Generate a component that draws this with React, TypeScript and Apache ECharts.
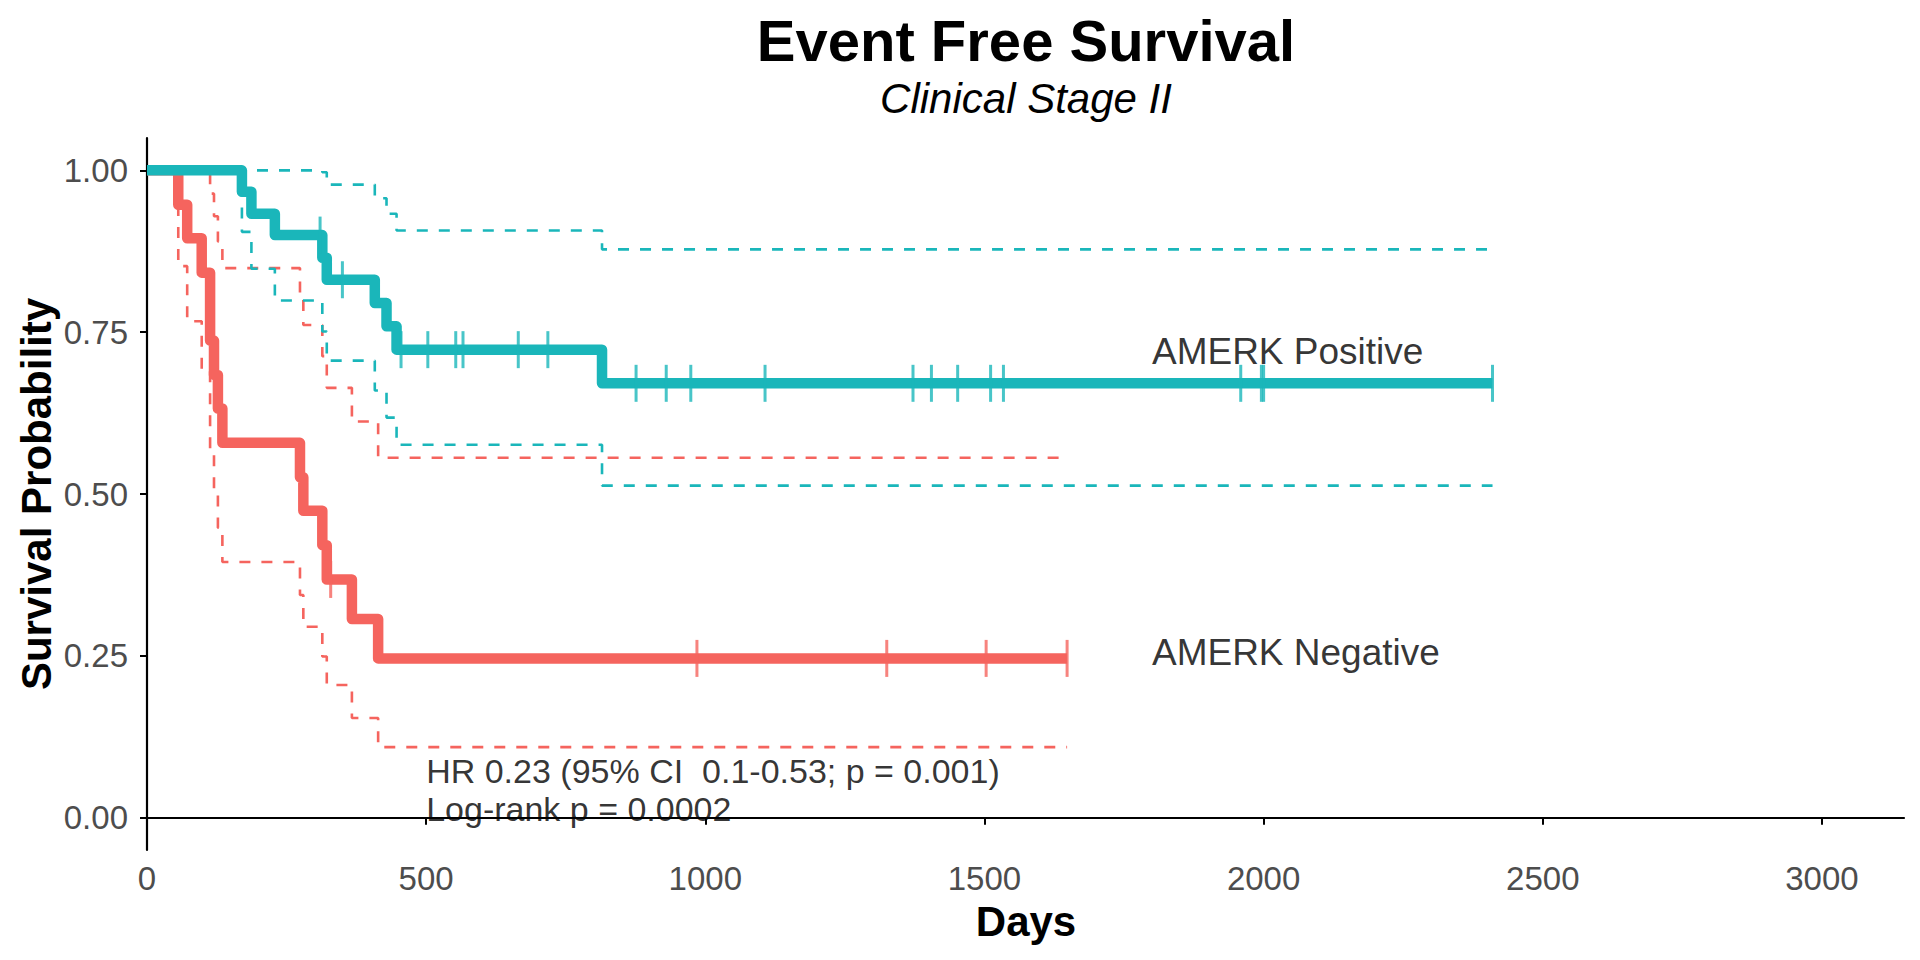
import React, { useEffect, useRef } from "react";
import * as echarts from "echarts";

// ---- Data ----
// AMERK Negative (red)
const negTimes = [0, 56, 72, 98, 113, 120, 127, 135, 274, 280, 314, 322, 367, 414, 1648];
const negSurv = [1, 0.947, 0.895, 0.842, 0.737, 0.684, 0.632, 0.579, 0.526, 0.474, 0.421, 0.368, 0.307, 0.246, 0.246];
const negUpper = [1, 1, 1, 1, 0.964, 0.929, 0.89, 0.849, 0.806, 0.761, 0.713, 0.664, 0.612, 0.556, 0.556];
const negLower = [1, 0.852, 0.767, 0.693, 0.563, 0.504, 0.448, 0.395, 0.344, 0.295, 0.249, 0.205, 0.154, 0.109, 0.109];
const negCensorTimes = [329, 985, 1325, 1503, 1648];
const negCensorSurv = [0.368, 0.246, 0.246, 0.246, 0.246];

// AMERK Positive (teal)
const posTimes = [0, 170, 187, 229, 314, 322, 408, 429, 447, 815, 2410];
const posSurv = [1, 0.967, 0.933, 0.9, 0.865, 0.831, 0.795, 0.759, 0.723, 0.671, 0.671];
const posUpper = [1, 1, 1, 1, 0.997, 0.978, 0.957, 0.933, 0.907, 0.878, 0.878];
const posLower = [1, 0.905, 0.848, 0.799, 0.751, 0.706, 0.66, 0.618, 0.576, 0.513, 0.513];
const posCensorTimes = [310, 350, 455, 503, 553, 566, 665, 718, 876, 930, 974, 1107, 1372, 1405, 1452, 1511, 1534, 1959, 1996, 2000, 2410];
const posCensorSurv = [0.9, 0.831, 0.723, 0.723, 0.723, 0.723, 0.723, 0.723, 0.671, 0.671, 0.671, 0.671, 0.671, 0.671, 0.671, 0.671, 0.671, 0.671, 0.671, 0.671, 0.671];

const xTicks = [0, 500, 1000, 1500, 2000, 2500, 3000];
const yTicks = [0, 0.25, 0.5, 0.75, 1];

const groupLabels = ["AMERK Positive", "AMERK Negative"];
const groupLabelX = [1800, 1800];
const groupLabelY = [0.72, 0.255];
const statsText = "HR 0.23 (95% CI  0.1-0.53; p = 0.001)\nLog-rank p = 0.0002";
const statsX = 500;
const statsY = 0.042;

const RED = "#F5645E";
const TEAL = "#1AB6BA";
const FONT = "'Liberation Sans', Arial, Helvetica, sans-serif";

const zip = (a: number[], b: number[]) => a.map((v, i) => [v, b[i]]);

export default function App() {
  const ref = useRef<HTMLDivElement>(null);
  useEffect(() => {
    if (!ref.current) return;
    const chart = echarts.init(ref.current, undefined, { renderer: "svg" });
    const dashed = (color: string) => ({
      color,
      width: 2.6,
      type: [11, 11] as number[],
    });
    const stepLine = (name: string, data: number[][], lineStyle: any, z: number) => ({
      name,
      type: "line",
      step: "end",
      data,
      symbol: "none",
      silent: true,
      z,
      lineStyle,
    });
    const option: any = {
      animation: false,
      backgroundColor: "#ffffff",
      textStyle: { fontFamily: FONT },
      grid: { left: 147, right: 16, top: 138, bottom: 110, containLabel: false },
      xAxis: {
        type: "value",
        min: 0,
        max: 3147,
        interval: 500,
        axisLine: { show: true, lineStyle: { color: "#000", width: 2.2 } },
        axisTick: { show: true, length: 7, customValues: xTicks, lineStyle: { color: "#000", width: 2 } },
        axisLabel: {
          customValues: xTicks,
          fontSize: 33,
          color: "#4D4D4D",
          fontFamily: FONT,
          margin: 12,
          formatter: (v: number) => (v % 500 === 0 ? String(v) : ""),
        },
        splitLine: { show: false },
      },
      yAxis: {
        type: "value",
        min: -0.05,
        max: 1.05,
        axisLine: { show: true, lineStyle: { color: "#000", width: 2.2 } },
        axisTick: { show: true, length: 7, customValues: yTicks, lineStyle: { color: "#000", width: 2 } },
        axisLabel: {
          customValues: yTicks,
          fontSize: 33,
          color: "#4D4D4D",
          fontFamily: FONT,
          margin: 19,
          formatter: (v: number) => (yTicks.some((t) => Math.abs(t - v) < 1e-9) ? v.toFixed(2) : ""),
        },
        splitLine: { show: false },
      },
      series: [
        stepLine("negLower", zip(negTimes, negLower), dashed(RED), 1),
        stepLine("negUpper", zip(negTimes, negUpper), dashed(RED), 1),
        stepLine("posLower", zip(posTimes, posLower), dashed(TEAL), 1),
        stepLine("posUpper", zip(posTimes, posUpper), dashed(TEAL), 1),
        stepLine("AMERK Negative", zip(negTimes, negSurv), { color: RED, width: 10.5, cap: "butt", join: "round" }, 2),
        stepLine("AMERK Positive", zip(posTimes, posSurv), { color: TEAL, width: 10.5, cap: "butt", join: "round" }, 3),
        {
          name: "negCensor",
          type: "scatter",
          data: zip(negCensorTimes, negCensorSurv),
          symbol: "rect",
          symbolSize: [3, 37],
          itemStyle: { color: RED },
          silent: true,
          z: 4,
        },
        {
          name: "posCensor",
          type: "scatter",
          data: zip(posCensorTimes, posCensorSurv),
          symbol: "rect",
          symbolSize: [3, 37],
          itemStyle: { color: TEAL },
          silent: true,
          z: 4,
        },
        {
          name: "groupLabels",
          type: "scatter",
          symbolSize: 0,
          silent: true,
          z: 5,
          data: groupLabels.map((t, i) => ({ value: [groupLabelX[i], groupLabelY[i]], name: t })),
          label: {
            show: true,
            position: "right",
            distance: 0,
            formatter: (p: any) => p.name,
            fontSize: 37,
            color: "#000",
            fontFamily: FONT,
          },
        },
        {
          name: "stats",
          type: "scatter",
          symbolSize: 0,
          silent: true,
          z: 5,
          data: [{ value: [statsX, statsY], name: statsText }],
          label: {
            show: true,
            position: "right",
            distance: 0,
            formatter: (p: any) => p.name,
            fontSize: 34,
            lineHeight: 38,
            color: "#000",
            fontFamily: FONT,
          },
        },
      ],
      graphic: [
        {
          type: "text",
          x: 1026,
          y: 40,
          style: {
            text: "Event Free Survival",
            textAlign: "center",
            textVerticalAlign: "middle",
            font: `bold 58px ${FONT}`,
            fill: "#000",
          },
        },
        {
          type: "text",
          x: 1026,
          y: 98,
          style: {
            text: "Clinical Stage II",
            textAlign: "center",
            textVerticalAlign: "middle",
            font: `italic 42px ${FONT}`,
            fill: "#000",
          },
        },
        {
          type: "text",
          x: 36,
          y: 494,
          rotation: Math.PI / 2,
          style: {
            text: "Survival Probability",
            textAlign: "center",
            textVerticalAlign: "middle",
            font: `bold 42px ${FONT}`,
            fill: "#000",
          },
        },
        {
          type: "text",
          x: 1026,
          y: 921,
          style: {
            text: "Days",
            textAlign: "center",
            textVerticalAlign: "middle",
            font: `bold 42px ${FONT}`,
            fill: "#000",
          },
        },
      ],
    };
    chart.setOption(option);
    return () => chart.dispose();
  }, []);
  return (
    <div
      ref={ref}
      style={{ position: "fixed", left: 0, top: 0, width: 1920, height: 960, background: "#fff" }}
    />
  );
}
